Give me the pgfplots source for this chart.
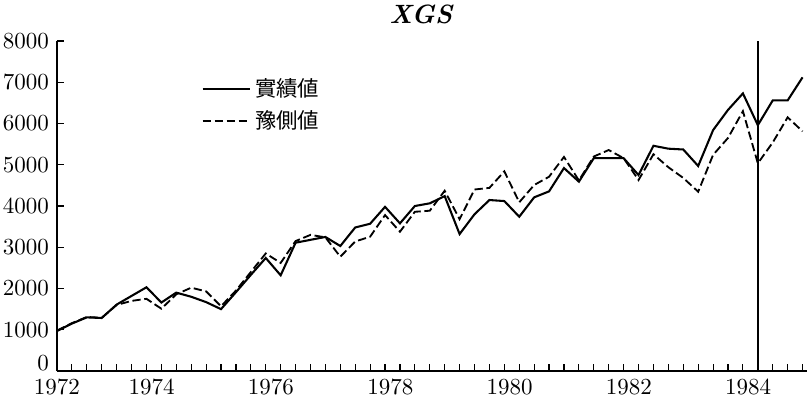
\documentclass[border=0pt]{standalone}
\usepackage{fontspec}
\usepackage{pgfplots}
\pgfplotsset{compat=1.18}
\newfontfamily\cjk{Noto Sans CJK JP}

\pgfplotstableread{
k act pred
0 970 980
1 1150 1160
2 1300 1310
3 1285 1290
4 1610 1600
5 1820 1700
6 2030 1750
7 1660 1510
8 1900 1860
9 1800 2020
10 1670 1930
11 1500 1570
12 1910 1950
13 2330 2400
14 2740 2850
15 2320 2620
16 3110 3150
17 3180 3300
18 3250 3240
19 3030 2770
20 3480 3140
21 3570 3256
22 3980 3780
23 3580 3377
24 4000 3860
25 4065 3886
26 4240 4370
27 3320 3680
28 3800 4400
29 4145 4440
30 4120 4840
31 3740 4090
32 4210 4509
33 4355 4710
34 4920 5190
35 4590 4620
36 5160 5200
37 5160 5357
38 5160 5160
39 4750 4630
40 5460 5255
41 5390 4940
42 5370 4680
43 4970 4347
44 5840 5240
45 6330 5650
46 6730 6300
47 5960 5035
48 6560 5540
49 6560 6150
50 7120 5810
}\datatable

\begin{document}
\begin{tikzpicture}
\useasboundingbox (-24.78pt,-13.91pt) rectangle (326.52pt,161.30pt);
\begin{axis}[
  at={(0pt,0pt)}, anchor=south west,
  scale only axis, width=326.1pt, height=143.48pt,
  xmin=0, xmax=50.3, ymin=0, ymax=8000,
  axis x line=bottom, axis y line=left,
  axis line style={-, line width=0.6pt},
  xtick={1,...,50}, xticklabels={},
  ytick={1000,2000,...,8000},
  extra y ticks={0},
  extra y tick style={yticklabel style={yshift=3.5pt}},
  tick style={black, line width=0.5pt},
  major tick length=3pt,
  tick align=inside,
  extra x ticks={0,6.35,14.35,22.35,30.35,38.35,46.35},
  extra x tick labels={1972,1974,1976,1978,1980,1982,1984},
  extra x tick style={major tick length=0pt},
  scaled y ticks=false,
  /pgf/number format/1000 sep={},
  clip=false,
  legend style={draw=none, fill=none, at={(rel axis cs:0.183,0.915)}, anchor=north west,
    font=\cjk\fontsize{9.3}{11}\selectfont, row sep=0.5pt},
  legend cell align=left,
  legend image code/.code={\draw[#1] (0pt,0pt) -- (20.4pt,0pt);},
]
\addplot[black, line width=0.9pt] table[x=k, y=act] {\datatable};
\addlegendentry{實績値}
\addplot[black, line width=0.8pt, dash pattern=on 3.6pt off 1.6pt] table[x=k, y=pred] {\datatable};
\addlegendentry{豫側値}
\addplot[black, line width=0.6pt, forget plot] coordinates {(47,0) (47,8000)};
\node[font=\fontsize{11.5}{13}\selectfont\bfseries\itshape, anchor=base] at (rel axis cs:0.485,1) [yshift=7.5pt] {XGS};
\end{axis}
\end{tikzpicture}
\end{document}
